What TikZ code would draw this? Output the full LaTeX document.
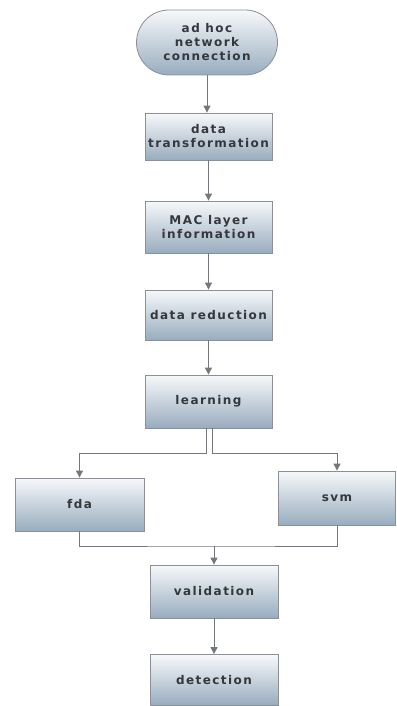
\documentclass[tikz,border=0pt]{standalone}
\usepackage{fontspec}
\setmainfont{DejaVu Sans}[LetterSpace=12]
\usepackage{xcolor}
\usepackage{tikz}
\usetikzlibrary{
  arrows.meta,
  positioning,
  shapes.misc
}
\definecolor{FlowTop}{HTML}{F7F9FB}
\definecolor{FlowBottom}{HTML}{98ACBE}
\definecolor{FlowEdge}{HTML}{8C9096}
\definecolor{FlowLine}{HTML}{74777B}
\definecolor{FlowText}{HTML}{34373B}

\tikzset{
  stagebox/.style={draw=FlowEdge,line width=0.8pt,top color=FlowTop,bottom color=FlowBottom,
                   text=FlowText,font=\bfseries\fontsize{12}{14}\selectfont,align=center,
                   inner sep=2pt,minimum width=127pt,minimum height=52pt},
  startbox/.style={stagebox,rounded rectangle,minimum width=145pt,minimum height=65pt},
  flowarrow/.style={draw=FlowLine,line width=0.9pt,-{Triangle[width=7pt,length=7pt]}},
  flowline/.style={draw=FlowLine,line width=0.9pt}
}

\begin{document}
\begin{tikzpicture}[x=1pt,y=-1pt]
  \useasboundingbox (0,0) rectangle (396,706);
  % main chain
  \node[startbox] (adhoc) at (207,42.5) {ad hoc\\network\\connection};
  \node[stagebox,minimum height=47pt] (transform) at (208.5,136.5) {data\\transformation};
  \node[stagebox] (mac) at (208.5,227) {MAC layer\\information};
  \node[stagebox,minimum height=50pt] (reduction) at (208.5,315) {data reduction};
  \node[stagebox,minimum height=53pt] (learning) at (208.5,401.5) {learning};
  % the two classifiers
  \node[stagebox,minimum width=129pt,minimum height=53pt] (fda) at (79.5,504.5) {fda};
  \node[stagebox,minimum width=117pt,minimum height=54pt] (svm) at (337,498) {svm};
  % checking
  \node[stagebox,minimum width=128pt,minimum height=53pt] (validation) at (214,591.5) {validation};
  \node[stagebox,minimum width=128pt,minimum height=51pt] (detection) at (214,680) {detection};

  \coordinate (split) at (210,453);
  \coordinate (merge) at (214,546);

  \draw[flowarrow] (adhoc.south) -- (adhoc.south |- transform.north);
  \draw[flowarrow] (transform) -- (mac);
  \draw[flowarrow] (mac) -- (reduction);
  \draw[flowarrow] (reduction) -- (learning);
  \draw[flowarrow] ([xshift=-2.5pt]learning.south) -- ([xshift=-2.5pt]learning.south |- split) -| (fda.north);
  \draw[flowarrow] ([xshift=3.5pt]learning.south) -- ([xshift=3.5pt]learning.south |- split) -| (svm.north);
  \draw[flowline] (fda.south) |- (merge) -| (svm.south);
  \draw[flowarrow] (merge) -- (validation.north);
  \draw[flowarrow] (validation) -- (detection);
\end{tikzpicture}
\end{document}
